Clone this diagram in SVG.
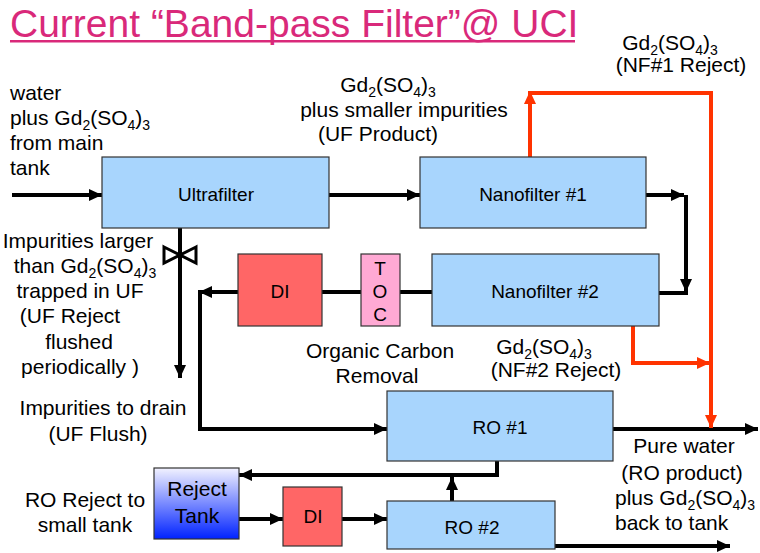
<svg xmlns="http://www.w3.org/2000/svg" width="760" height="553" viewBox="0 0 760 553">
<defs>
<style>
text{font-family:"Liberation Sans",Arial,sans-serif;fill:#000}
.t{font-size:21px}
.b{font-size:19px;text-anchor:middle}
.m{text-anchor:middle}
.s{font-size:14px}
.box{fill:#A8D5FD;stroke:#333;stroke-width:1.2}
.di{fill:#FF6666;stroke:#333;stroke-width:1.2}
.toc{fill:#FFA9D4;stroke:#333;stroke-width:1.2}
.k{fill:none;stroke:#000;stroke-width:4}
.r{fill:none;stroke:#FF3300;stroke-width:4}
</style>
<marker id="ak" markerUnits="userSpaceOnUse" markerWidth="14" markerHeight="14" refX="13" refY="7" orient="auto" viewBox="0 0 14 14"><path d="M0,1 L13,7 L0,13 z" fill="#000"/></marker>
<marker id="ar" markerUnits="userSpaceOnUse" markerWidth="14" markerHeight="14" refX="13" refY="7" orient="auto" viewBox="0 0 14 14"><path d="M0,1 L13,7 L0,13 z" fill="#FF3300"/></marker>
<linearGradient id="tank" x1="0" y1="0" x2="0" y2="1"><stop offset="0" stop-color="#F2F2FF"/><stop offset="1" stop-color="#0022FF"/></linearGradient>
</defs>
<rect width="760" height="553" fill="#fff"/>

<g id="title">
<text x="10" y="37" style="font-size:39px;fill:#D9297A">Current “Band-pass Filter”@ UCI</text>
<rect x="10" y="40" width="565" height="2.5" fill="#D9297A"/>
</g>

<g id="connectors">
<path class="k" d="M12,195 H102" marker-end="url(#ak)"/>
<path class="k" d="M329,195 H420" marker-end="url(#ak)"/>
<path class="k" d="M646,195 H684" marker-end="url(#ak)"/>
<path class="k" d="M686,195 V292" marker-end="url(#ak)"/>
<path class="k" d="M659,293 H688"/>
<path class="k" d="M432,292 H400"/>
<path class="k" d="M361,292 H322"/>
<path class="k" d="M238,292 H199" marker-end="url(#ak)"/>
<path class="k" d="M200,290 V429 H387" marker-end="url(#ak)"/>
<path class="k" d="M180,228 V378" marker-end="url(#ak)"/>
<polygon points="164,247 180,255 164,263" fill="#fff" stroke="#000" stroke-width="3"/>
<polygon points="196,247 180,255 196,263" fill="#fff" stroke="#000" stroke-width="3"/>
<path class="k" d="M613,429 H758" marker-end="url(#ak)"/>
<path class="k" d="M497,461 V475 H239" marker-end="url(#ak)"/>
<path class="k" d="M452,501 V477" marker-end="url(#ak)"/>
<path class="k" d="M239,519 H283" marker-end="url(#ak)"/>
<path class="k" d="M342,519 H387" marker-end="url(#ak)"/>
<path class="k" d="M555,546 H730" marker-end="url(#ak)"/>
<path class="r" d="M530,157 V91" marker-end="url(#ar)"/>
<path class="r" d="M528,93 H711 V428" marker-end="url(#ar)"/>
<path class="r" d="M633,326 V363 H710" marker-end="url(#ar)"/>
</g>

<g id="ultrafilter"><rect class="box" x="102" y="157" width="227" height="71"/><text class="b" x="216" y="201">Ultrafilter</text></g>
<g id="nanofilter1"><rect class="box" x="420" y="157" width="226" height="71"/><text class="b" x="533" y="201">Nanofilter #1</text></g>
<g id="nanofilter2"><rect class="box" x="432" y="254" width="227" height="72"/><text class="b" x="545" y="298">Nanofilter #2</text></g>
<g id="di1"><rect class="di" x="238" y="254" width="84" height="72"/><text class="b" x="280" y="298">DI</text></g>
<g id="toc"><rect class="toc" x="361" y="254" width="39" height="72"/>
<text class="b" x="380" y="275">T</text><text class="b" x="380" y="298">O</text><text class="b" x="380" y="321">C</text></g>
<g id="ro1"><rect class="box" x="387" y="391" width="226" height="70"/><text class="b" x="500" y="434">RO #1</text></g>
<g id="ro2"><rect class="box" x="387" y="501" width="168" height="48"/><text class="b" x="472" y="534">RO #2</text></g>
<g id="rejecttank"><rect x="154" y="468" width="85" height="71" fill="url(#tank)" stroke="#333" stroke-width="1.2"/>
<text class="t m" x="197" y="496">Reject</text><text class="t m" x="197" y="523">Tank</text></g>
<g id="di2"><rect class="di" x="283" y="487" width="59" height="59"/><text class="b" x="313" y="523">DI</text></g>

<g id="labels">
<text class="t" x="10" y="100">water</text>
<text class="t" x="10" y="125">plus Gd<tspan class="s" dy="5">2</tspan><tspan dy="-5">(SO</tspan><tspan class="s" dy="5">4</tspan><tspan dy="-5">)</tspan><tspan class="s" dy="5">3</tspan></text>
<text class="t" x="10" y="150">from main</text>
<text class="t" x="10" y="175">tank</text>

<text class="t m" x="388" y="92">Gd<tspan class="s" dy="5">2</tspan><tspan dy="-5">(SO</tspan><tspan class="s" dy="5">4</tspan><tspan dy="-5">)</tspan><tspan class="s" dy="5">3</tspan></text>
<text class="t m" x="404" y="117">plus smaller impurities</text>
<text class="t m" x="378" y="141">(UF Product)</text>

<text class="t m" x="670" y="50">Gd<tspan class="s" dy="5">2</tspan><tspan dy="-5">(SO</tspan><tspan class="s" dy="5">4</tspan><tspan dy="-5">)</tspan><tspan class="s" dy="5">3</tspan></text>
<text class="t m" x="681" y="72">(NF#1 Reject)</text>

<text class="t m" x="78" y="248">Impurities larger</text>
<text class="t m" x="85" y="273">than Gd<tspan class="s" dy="5">2</tspan><tspan dy="-5">(SO</tspan><tspan class="s" dy="5">4</tspan><tspan dy="-5">)</tspan><tspan class="s" dy="5">3</tspan></text>
<text class="t m" x="80" y="298">trapped in UF</text>
<text class="t m" x="70" y="323">(UF Reject</text>
<text class="t m" x="79" y="349">flushed</text>
<text class="t m" x="80" y="374">periodically )</text>

<text class="t m" x="103" y="415">Impurities to drain</text>
<text class="t m" x="98" y="441">(UF Flush)</text>

<text class="t m" x="85" y="507">RO Reject to</text>
<text class="t m" x="85" y="532">small tank</text>

<text class="t m" x="380" y="358">Organic Carbon</text>
<text class="t m" x="377" y="383">Removal</text>

<text class="t m" x="544" y="354">Gd<tspan class="s" dy="5">2</tspan><tspan dy="-5">(SO</tspan><tspan class="s" dy="5">4</tspan><tspan dy="-5">)</tspan><tspan class="s" dy="5">3</tspan></text>
<text class="t m" x="556" y="377">(NF#2 Reject)</text>

<text class="t m" x="684" y="453">Pure water</text>
<text class="t m" x="682" y="480">(RO product)</text>
<text class="t" x="615" y="505">plus Gd<tspan class="s" dy="5">2</tspan><tspan dy="-5">(SO</tspan><tspan class="s" dy="5">4</tspan><tspan dy="-5">)</tspan><tspan class="s" dy="5">3</tspan></text>
<text class="t" x="615" y="530">back to tank</text>
</g>
</svg>
